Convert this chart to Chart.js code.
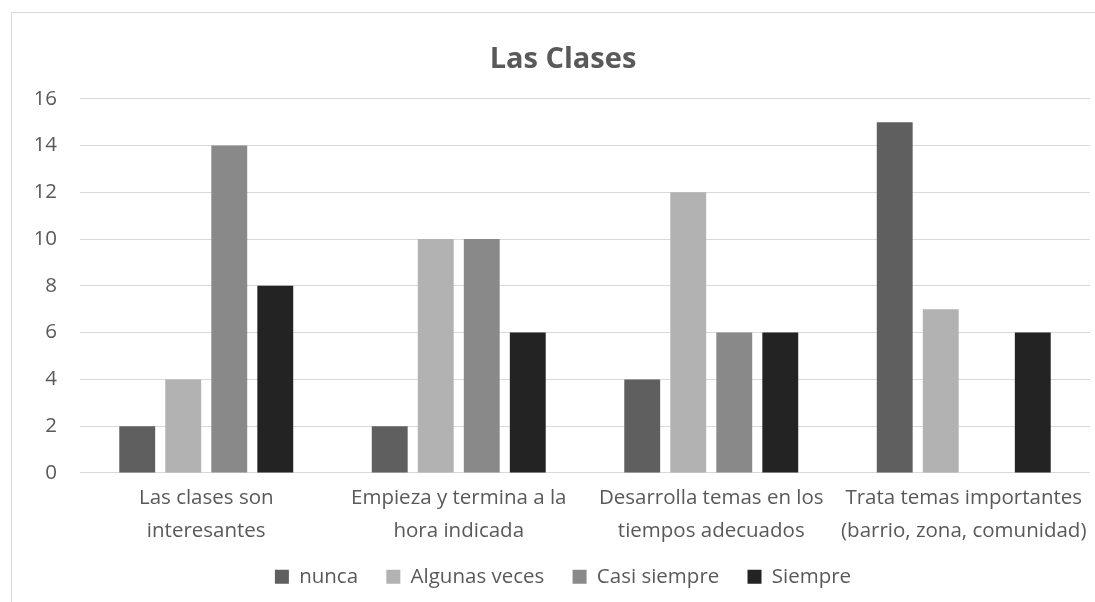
<!DOCTYPE html>
<html>
<head>
<meta charset="utf-8">
<script src="https://cdn.jsdelivr.net/npm/chart.js@4.4.1/dist/chart.umd.min.js"></script>
<style>
  html, body { margin: 0; padding: 0; background: #ffffff; overflow: hidden; }
  body { width: 1095px; height: 602px; position: relative; }
  #frame {
    position: absolute; left: 11px; top: 12px; width: 1104px; height: 600px;
    border-left: 1px solid #d9d9d9; border-top: 1px solid #d9d9d9; box-sizing: border-box;
  }
  #wrap { position: absolute; left: 11px; top: 12px; width: 1104px; height: 590px; }
</style>
</head>
<body>
<div id="frame"></div>
<div id="wrap"><canvas id="c"></canvas></div>
<script>
// Survey answers about the classes
const categories = [
  ["Las clases son", "interesantes"],
  ["Empieza y termina a la", "hora indicada"],
  ["Desarrolla temas en los", "tiempos adecuados"],
  ["Trata temas importantes", "(barrio, zona, comunidad)"]
];
const nunca = [2, 2, 4, 15];
const algunasVeces = [4, 10, 12, 7];
const casiSiempre = [14, 10, 6, 0];
const siempre = [8, 6, 6, 6];
const yTicks = [0, 2, 4, 6, 8, 10, 12, 14, 16];

const textColor = '#595959';
const fontFamily = "'Open Sans', 'DejaVu Sans', sans-serif";
const labelSize = 20.5;

const series = [
  { label: 'nunca', data: nunca, color: '#5f5f5f' },
  { label: 'Algunas veces', data: algunasVeces, color: '#b2b2b2' },
  { label: 'Casi siempre', data: casiSiempre, color: '#898989' },
  { label: 'Siempre', data: siempre, color: '#232323' }
];

new Chart(document.getElementById('c'), {
  type: 'bar',
  data: {
    labels: categories,
    datasets: series.map(s => ({
      label: s.label,
      data: s.data,
      backgroundColor: s.color,
      borderWidth: 0,
      categoryPercentage: 0.729,
      barPercentage: 0.78
    }))
  },
  options: {
    responsive: true,
    maintainAspectRatio: false,
    animation: false,
    layout: { padding: { left: 25, right: 25, top: 0, bottom: 5 } },
    plugins: {
      title: {
        display: true,
        text: 'Las Clases',
        color: textColor,
        font: { family: fontFamily, size: 29, weight: 'bold' },
        padding: { top: 30, bottom: 22 }
      },
      legend: {
        position: 'bottom',
        labels: {
          color: textColor,
          font: { family: fontFamily, size: labelSize },
          boxWidth: 14,
          boxHeight: 14,
          padding: 18,
          // a little extra room after each entry, between items
          generateLabels: chart => {
            const items = Chart.defaults.plugins.legend.labels.generateLabels(chart);
            return items.map((it, i) => ({ ...it, text: i < items.length - 1 ? it.text + '\u2002' : it.text }));
          }
        }
      },
      tooltip: { enabled: false }
    },
    scales: {
      x: {
        grid: { display: false },
        border: { display: false },
        ticks: {
          color: textColor,
          font: { family: fontFamily, size: labelSize, lineHeight: 1.6 },
          padding: 1,
          maxRotation: 0,
          autoSkip: false
        }
      },
      y: {
        min: 0,
        max: 16,
        afterBuildTicks: axis => { axis.ticks = yTicks.map(v => ({ value: v })); },
        grid: { color: '#d9d9d9', lineWidth: 1, drawTicks: false },
        border: { display: false },
        ticks: {
          color: textColor,
          font: { family: fontFamily, size: labelSize },
          padding: 23
        },
        afterFit: axis => { axis.width = 44; }
      }
    }
  }
});
</script>
</body>
</html>
